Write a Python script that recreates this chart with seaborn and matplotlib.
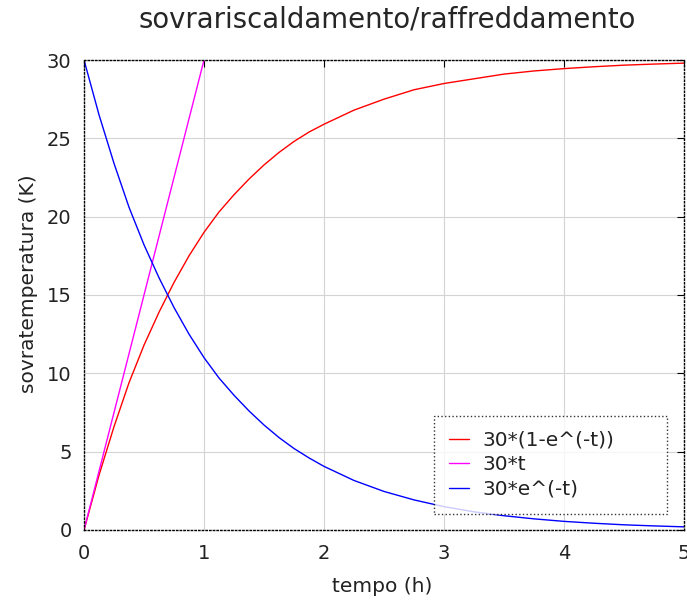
import numpy as np
import pandas as pd
import matplotlib
matplotlib.use('Agg')
import matplotlib.pyplot as plt
import seaborn as sns

# valori (t in ore, sovratemperatura in K)
t = [0, 0.125, 0.25, 0.375, 0.5, 0.625, 0.75, 0.875, 1, 1.125, 1.25, 1.375,
     1.5, 1.625, 1.75, 1.875, 2, 2.25, 2.5, 2.75, 3,
     3.25, 3.5, 3.75, 4, 4.25, 4.5, 4.75, 5]
riscaldamento = [0, 3.5, 6.6, 9.4, 11.8, 13.9, 15.8, 17.5, 19.0, 20.3, 21.4,
                 22.4, 23.3, 24.1, 24.8, 25.4, 25.9, 26.8, 27.5,
                 28.1, 28.5, 28.8, 29.1, 29.3, 29.45, 29.57, 29.67, 29.74, 29.8]
raffreddamento = [30, 26.5, 23.4, 20.6, 18.2, 16.1, 14.2, 12.5, 11.0, 9.7, 8.6,
                  7.6, 6.7, 5.9, 5.2, 4.6, 4.06, 3.16, 2.46,
                  1.92, 1.49, 1.16, 0.91, 0.71, 0.55, 0.43, 0.33, 0.26, 0.2]
t_lineare = [0, 1]
lineare = [0, 30]

labels = ['30*(1-e^(-t))', '30*t', '30*e^(-t)']
colori = ['#ff0000', '#ff00ff', '#0000ff']

df = pd.concat([
    pd.DataFrame({'t': t, 'y': riscaldamento, 'serie': labels[0]}),
    pd.DataFrame({'t': t_lineare, 'y': lineare, 'serie': labels[1]}),
    pd.DataFrame({'t': t, 'y': raffreddamento, 'serie': labels[2]}),
])

sns.set_style('white')
plt.rcParams['font.family'] = ['DejaVu Sans']

fig = plt.figure(figsize=(6.87, 6.0), dpi=100)
ax = fig.add_axes([0.1223, 0.1167, 0.8733, 0.7833])

sns.lineplot(data=df, x='t', y='y', hue='serie', palette=colori,
             hue_order=labels, ax=ax, linewidth=1.0, sort=False,
             estimator=None)

ax.set_xlim(0, 5)
ax.set_ylim(0, 30)
ax.set_xticks(range(0, 6))
ax.set_yticks(range(0, 31, 5))
ax.grid(True, color='#d4d4d4', linewidth=0.8)
ax.tick_params(direction='in', length=5, width=0.8, colors='black',
               labelsize=14, top=True, right=True, labelcolor='#222222')
ax.tick_params(axis='x', pad=10)
ax.tick_params(axis='y', pad=9)
for s in ax.spines.values():
    s.set_color('black')
    s.set_linewidth(1.0)
    s.set_linestyle(':')

ax.set_xlabel('tempo (h)', fontsize=14.5, color='#222222')
ax.set_ylabel('sovratemperatura (K)', fontsize=14.5, color='#222222')
ax.xaxis.set_label_coords(0.497, -0.100)
ax.yaxis.set_label_coords(-0.077, 0.523)
fig.suptitle('sovrariscaldamento/raffreddamento', fontsize=19.8,
             x=0.563, y=0.99)

leg = ax.legend(loc='lower left', bbox_to_anchor=(0.583, 0.034, 0.389, 0.215),
                mode='expand', fontsize=14.5, frameon=True, fancybox=False,
                handlelength=1.0, borderpad=0.75, labelspacing=0.28,
                handletextpad=0.65, borderaxespad=0.0)
leg.get_frame().set_edgecolor('black')
leg.get_frame().set_linestyle(':')
leg.get_frame().set_linewidth(1.0)
for txt in leg.get_texts():
    txt.set_color('#222222')

fig.savefig('out.png', dpi=100)
